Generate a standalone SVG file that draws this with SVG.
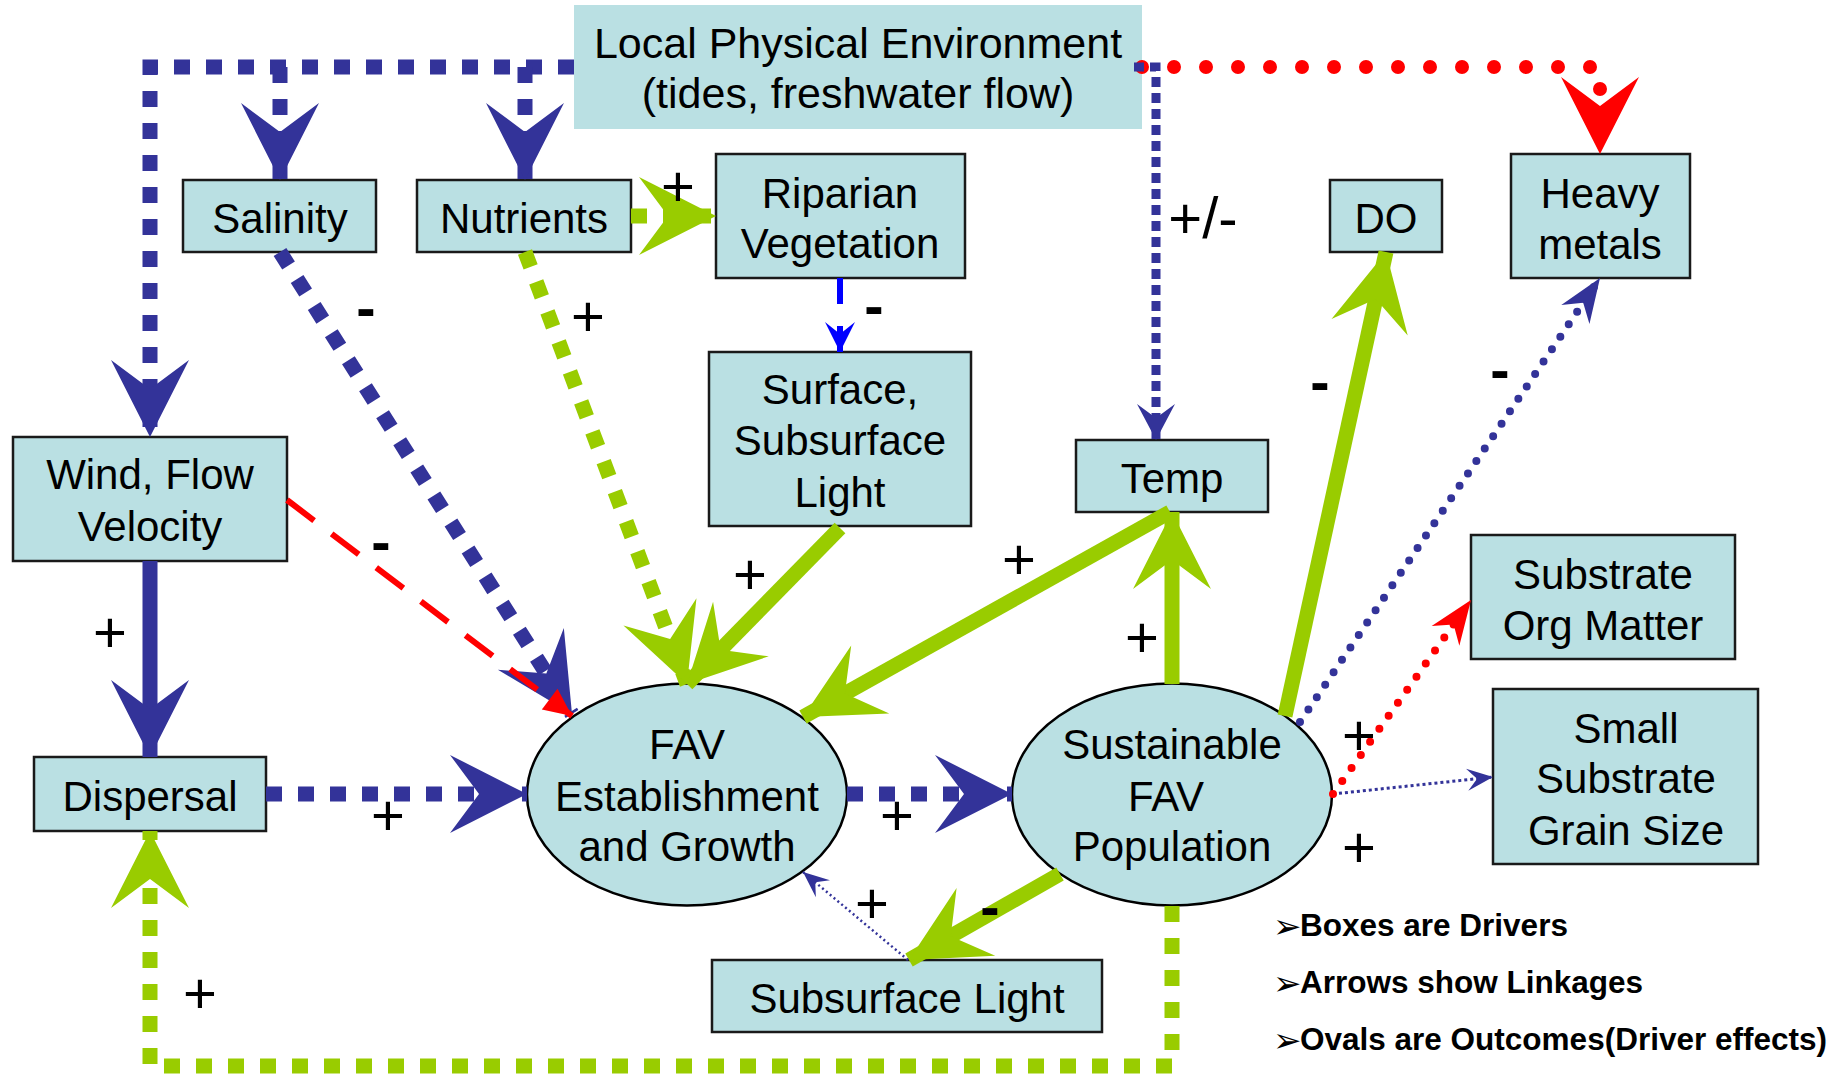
<svg xmlns="http://www.w3.org/2000/svg" width="1832" height="1076" viewBox="0 0 1832 1076">
<style>
.box{fill:#bae0e3;stroke:#1a1a1a;stroke-width:2.5}
.oval{fill:#bae0e3;stroke:#000;stroke-width:2.5}
.t{font-family:"Liberation Sans",Arial,sans-serif;font-size:42px;fill:#000;text-anchor:middle}
.lbl{font-family:"Liberation Sans",Arial,sans-serif;font-size:58px;fill:#000;text-anchor:middle}
.mn{font-weight:bold}
.leg{font-family:"Liberation Sans",Arial,sans-serif;font-size:31.5px;font-weight:bold;fill:#000}
.legA{font-family:"DejaVu Sans",sans-serif;font-size:34px;fill:#000}
.sqB{fill:none;stroke:#333399;stroke-width:15;stroke-dasharray:16 16}
.sqG{fill:none;stroke:#99cc00;stroke-width:15;stroke-dasharray:16 16}
.solG{fill:none;stroke:#99cc00;stroke-width:15}
.solB{fill:none;stroke:#333399;stroke-width:15}
</style>
<defs>
<marker id="bigB" viewBox="-80 -42 84 84" refX="0" refY="0" markerWidth="84" markerHeight="84" markerUnits="userSpaceOnUse" orient="auto"><path d="M0,0 L-77,-39 L-48,0 L-77,39 Z" fill="#333399"/></marker>
<marker id="bigG" viewBox="-80 -42 84 84" refX="0" refY="0" markerWidth="84" markerHeight="84" markerUnits="userSpaceOnUse" orient="auto"><path d="M0,0 L-77,-39 L-48,0 L-77,39 Z" fill="#99cc00"/></marker>
<marker id="bigR" viewBox="-80 -42 84 84" refX="0" refY="0" markerWidth="84" markerHeight="84" markerUnits="userSpaceOnUse" orient="auto"><path d="M0,0 L-77,-39 L-48,0 L-77,39 Z" fill="#ff0000"/></marker>
<marker id="smB" viewBox="-40 -22 44 44" refX="0" refY="0" markerWidth="44" markerHeight="44" markerUnits="userSpaceOnUse" orient="auto"><path d="M0,0 L-36,-19 L-22,0 L-36,19 Z" fill="#333399"/></marker>
<marker id="tinyBl" viewBox="-34 -18 38 36" refX="0" refY="0" markerWidth="38" markerHeight="36" markerUnits="userSpaceOnUse" orient="auto"><path d="M0,0 L-30,-15 L-18,0 L-30,15 Z" fill="#0000ff"/></marker>
<marker id="mdB" viewBox="-48 -20 52 40" refX="0" refY="0" markerWidth="52" markerHeight="40" markerUnits="userSpaceOnUse" orient="auto"><path d="M0,0 L-44,-17 L-30,0 L-44,17 Z" fill="#333399"/></marker>
<marker id="mdR" viewBox="-48 -20 52 40" refX="0" refY="0" markerWidth="52" markerHeight="40" markerUnits="userSpaceOnUse" orient="auto"><path d="M0,0 L-44,-17 L-30,0 L-44,17 Z" fill="#ff0000"/></marker>
<marker id="thB" viewBox="-30 -14 34 28" refX="0" refY="0" markerWidth="34" markerHeight="28" markerUnits="userSpaceOnUse" orient="auto"><path d="M0,0 L-26,-11 L-16,0 L-26,11 Z" fill="#333399"/></marker>
<marker id="triR" viewBox="-32 -16 36 32" refX="0" refY="0" markerWidth="36" markerHeight="32" markerUnits="userSpaceOnUse" orient="auto"><path d="M0,0 L-28,-13 L-28,13 Z" fill="#ff0000"/></marker>
</defs>
<rect x="0" y="0" width="1832" height="1076" fill="#fff"/>

<g id="local-env"><rect x="574" y="5" width="568" height="124" fill="#bae0e3"/><text class="t" style="font-size:43px" x="858" y="58">Local Physical Environment</text><text class="t" style="font-size:43px" x="858" y="108">(tides, freshwater flow)</text></g>
<g id="salinity"><rect class="box" x="183" y="180" width="193" height="72"/><text class="t" x="280" y="233">Salinity</text></g>
<g id="nutrients"><rect class="box" x="417" y="180" width="214" height="72"/><text class="t" x="524" y="233">Nutrients</text></g>
<g id="riparian"><rect class="box" x="716" y="154" width="249" height="124"/><text class="t" x="840" y="208">Riparian</text><text class="t" x="840" y="258">Vegetation</text></g>
<g id="surface-light"><rect class="box" x="709" y="352" width="262" height="174"/><text class="t" x="840" y="404">Surface,</text><text class="t" x="840" y="455">Subsurface</text><text class="t" x="840" y="507">Light</text></g>
<g id="temp"><rect class="box" x="1076" y="440" width="192" height="72"/><text class="t" x="1172" y="493">Temp</text></g>
<g id="do"><rect class="box" x="1330" y="180" width="112" height="72"/><text class="t" x="1386" y="233">DO</text></g>
<g id="heavy-metals"><rect class="box" x="1511" y="154" width="179" height="124"/><text class="t" x="1600" y="208">Heavy</text><text class="t" x="1600" y="259">metals</text></g>
<g id="wind"><rect class="box" x="13" y="437" width="274" height="124"/><text class="t" x="150" y="489">Wind, Flow</text><text class="t" x="150" y="541">Velocity</text></g>
<g id="dispersal"><rect class="box" x="34" y="757" width="232" height="74"/><text class="t" x="150" y="811">Dispersal</text></g>
<g id="substrate-org"><rect class="box" x="1471" y="535" width="264" height="124"/><text class="t" x="1603" y="589">Substrate</text><text class="t" x="1603" y="640">Org Matter</text></g>
<g id="small-substrate"><rect class="box" x="1493" y="689" width="265" height="175"/><text class="t" x="1626" y="743">Small</text><text class="t" x="1626" y="793">Substrate</text><text class="t" x="1626" y="845">Grain Size</text></g>
<g id="subsurface-light"><rect class="box" x="712" y="960" width="390" height="72"/><text class="t" x="907" y="1013">Subsurface Light</text></g>
<g id="fav-establishment"><ellipse class="oval" cx="687" cy="794.5" rx="160" ry="111"/><text class="t" x="687" y="759">FAV</text><text class="t" x="687" y="811">Establishment</text><text class="t" x="687" y="861">and Growth</text></g>
<g id="sustainable-fav"><ellipse class="oval" cx="1172" cy="794.5" rx="160" ry="111"/><text class="t" x="1172" y="759">Sustainable</text><text class="t" x="1166" y="811">FAV</text><text class="t" x="1172" y="861">Population</text></g>

<g id="connectors">
<path class="sqB" d="M574,67 H150 V437" marker-end="url(#bigB)"/>
<path class="sqB" d="M280,67 V180" marker-end="url(#bigB)"/>
<path class="sqB" d="M525,67 V180" marker-end="url(#bigB)"/>
<path d="M1142,67 H1600 V92" fill="none" stroke="#ff0000" stroke-width="14" stroke-linecap="round" stroke-dasharray="0 32"/>
<path d="M1600,92 V154" fill="none" stroke="none" marker-end="url(#bigR)"/>
<path d="M1134,67 H1156 V440" fill="none" stroke="#333399" stroke-width="9" stroke-dasharray="10 6" marker-end="url(#smB)"/>
<path class="sqG" d="M631,216 H716" marker-end="url(#bigG)"/>
<path d="M840,278 V352" fill="none" stroke="#0000ff" stroke-width="6" stroke-dasharray="26 22" marker-end="url(#tinyBl)"/>
<path class="sqB" d="M280,252 L572,714" marker-end="url(#bigB)"/>
<path class="sqG" d="M525,252 L687,684" marker-end="url(#bigG)"/>
<path class="solG" d="M840,528 L687,684" marker-end="url(#bigG)"/>
<path class="solG" d="M1170,512 L803,717" marker-end="url(#bigG)"/>
<path class="solG" d="M1172,684 V512" marker-end="url(#bigG)"/>
<path class="solG" d="M1285,716 L1386,252" marker-end="url(#bigG)"/>
<path d="M1300,722 L1600,278" fill="none" stroke="#333399" stroke-width="8" stroke-linecap="round" stroke-dasharray="0 15" marker-end="url(#mdB)"/>
<path d="M1333,794 L1493,777" fill="none" stroke="#333399" stroke-width="3" stroke-dasharray="3 3" marker-end="url(#thB)"/>
<path d="M1333,794 L1471,600" fill="none" stroke="#ff0000" stroke-width="8" stroke-linecap="round" stroke-dasharray="0 16" marker-end="url(#mdR)"/>
<path class="solB" d="M150,561 V757" marker-end="url(#bigB)"/>
<path d="M287,500 L572,716" fill="none" stroke="#ff0000" stroke-width="6" stroke-dasharray="34 22" marker-end="url(#triR)"/>
<path class="sqB" d="M266,794 H527" marker-end="url(#bigB)"/>
<path class="sqB" d="M847,794 H1012" marker-end="url(#bigB)"/>
<path class="solG" d="M1060,874 L909,960" marker-end="url(#bigG)"/>
<path d="M908,960 L803,872" fill="none" stroke="#333399" stroke-width="2.5" stroke-dasharray="2 3" marker-end="url(#thB)"/>
<path class="sqG" d="M1172,906 V1066 H150 V831" marker-end="url(#bigG)"/>
</g>

<g id="labels">
<text class="lbl" x="678" y="206">+</text>
<text class="lbl mn" x="366" y="328">-</text>
<text class="lbl" x="588" y="336">+</text>
<text class="lbl mn" x="874" y="326">-</text>
<text class="lbl" x="1203" y="238">+/-</text>
<text class="lbl mn" x="1320" y="402">-</text>
<text class="lbl mn" x="1500" y="390">-</text>
<text class="lbl mn" x="381" y="562">-</text>
<text class="lbl" x="750" y="594">+</text>
<text class="lbl" x="1019" y="579">+</text>
<text class="lbl" x="110" y="652">+</text>
<text class="lbl" x="1142" y="657">+</text>
<text class="lbl" x="1359" y="755">+</text>
<text class="lbl" x="1359" y="867">+</text>
<text class="lbl" x="388" y="835">+</text>
<text class="lbl" x="897" y="835">+</text>
<text class="lbl" x="872" y="923">+</text>
<text class="lbl mn" x="990" y="927">-</text>
<text class="lbl" x="200" y="1013">+</text>
</g>

<g id="legend">
<text class="legA" x="1273" y="938">➢</text><text class="leg" x="1300" y="936">Boxes are Drivers</text>
<text class="legA" x="1273" y="995">➢</text><text class="leg" x="1300" y="993">Arrows show Linkages</text>
<text class="legA" x="1273" y="1052">➢</text><text class="leg" x="1300" y="1050">Ovals are Outcomes(Driver effects)</text>
</g>
</svg>
